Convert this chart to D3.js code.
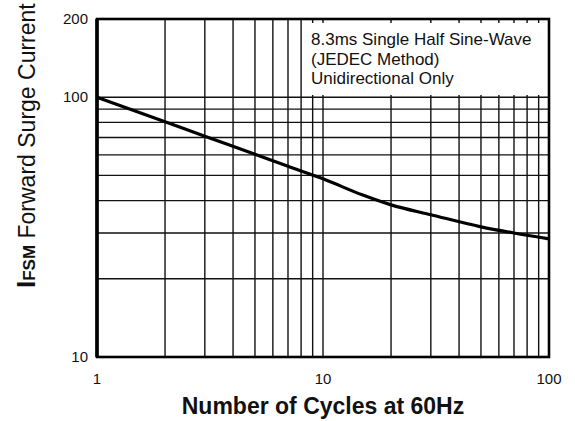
<!DOCTYPE html>
<html>
<head>
<meta charset="utf-8">
<script src="https://cdn.jsdelivr.net/npm/d3@7"></script>
<style>
  body { margin: 0; background: #fff; }
  text { font-family: "Liberation Sans", Arial, sans-serif; fill: #111; }
</style>
</head>
<body>
<script>
// surge current curve
var cycles = [1, 2, 3, 5, 7, 10, 15, 20, 30, 50, 70, 100];
var current = [100, 80.5, 70.8, 60.3, 54.2, 48.5, 42, 38.5, 35.3, 31.7, 30, 28.5];

var xTicks = [1, 10, 100];
var yTicks = [200, 100, 10];
var xGrid = [2, 3, 4, 5, 6, 7, 8, 9, 10, 20, 30, 40, 50, 60, 70, 80, 90];
var yGrid = [20, 30, 40, 50, 60, 70, 80, 90, 100];
var note = ["8.3ms Single Half Sine-Wave", "(JEDEC Method)", "Unidirectional Only"];

var W = 575, H = 421;
var pL = 97, pR = 549, pT = 19, pB = 357;

var x = d3.scaleLog().domain([1, 100]).range([pL, pR]);
var y = d3.scaleLog().domain([10, 200]).range([pB, pT]);

var svg = d3.select("body").append("svg")
    .attr("width", W)
    .attr("height", H);

// grid
svg.selectAll(".vgrid")
    .data(xGrid)
    .enter().append("line")
    .attr("x1", function(d){return x(d)})
    .attr("x2", function(d){return x(d)})
    .attr("y1", pT)
    .attr("y2", pB)
    .attr("stroke", "#111")
    .attr("stroke-width", 1.4);

svg.selectAll(".hgrid")
    .data(yGrid)
    .enter().append("line")
    .attr("x1", pL)
    .attr("x2", pR)
    .attr("y1", function(d){return y(d)})
    .attr("y2", function(d){return y(d)})
    .attr("stroke", "#111")
    .attr("stroke-width", 1.4);

// white box behind the note
svg.append("rect")
    .attr("x", x(8) + 2)
    .attr("y", pT + 4)
    .attr("width", pR - x(8) - 3)
    .attr("height", 72)
    .attr("fill", "#fff");

svg.append("g")
    .selectAll("text")
    .data(note)
    .enter().append("text")
    .attr("x", 311)
    .attr("y", function(d, i){return 45 + i * 19.5})
    .style("font-size", "17px")
    .text(function(d){return d});

// curve
var line = d3.line()
    .x(function(d){return x(d[0])})
    .y(function(d){return y(d[1])})
    .curve(d3.curveMonotoneX);

svg.append("path")
    .datum(d3.zip(cycles, current))
    .attr("d", line)
    .attr("fill", "none")
    .attr("stroke", "#000")
    .attr("stroke-width", 3.2);

// frame
svg.append("rect")
    .attr("x", pL)
    .attr("y", pT)
    .attr("width", pR - pL)
    .attr("height", pB - pT)
    .attr("fill", "none")
    .attr("stroke", "#000")
    .attr("stroke-width", 2.6);

svg.append("line")
    .attr("x1", pL)
    .attr("x2", pL)
    .attr("y1", pT)
    .attr("y2", pB)
    .attr("stroke", "#000")
    .attr("stroke-width", 3.6);

// tick labels
svg.selectAll(".ylab")
    .data(yTicks)
    .enter().append("text")
    .attr("x", 88)
    .attr("y", function(d){return y(d) + 5})
    .attr("text-anchor", "end")
    .style("font-size", "15px")
    .text(function(d){return d});

svg.selectAll(".xlab")
    .data(xTicks)
    .enter().append("text")
    .attr("x", function(d){return x(d)})
    .attr("y", 384)
    .attr("text-anchor", "middle")
    .style("font-size", "15px")
    .text(function(d){return d});

// axis titles
svg.append("text")
    .attr("x", (pL + pR) / 2)
    .attr("y", 414)
    .attr("text-anchor", "middle")
    .style("font-size", "23px")
    .style("font-weight", "bold")
    .text("Number of Cycles at 60Hz");

var yt = svg.append("text")
    .attr("transform", "translate(35,288) rotate(-90)");
yt.append("tspan").style("font-size", "26px").style("font-weight", "bold").text("I");
yt.append("tspan").style("font-size", "17px").style("font-weight", "bold").text("FSM");
yt.append("tspan").style("font-size", "23px").text(" Forward Surge Current");
</script>
</body>
</html>
